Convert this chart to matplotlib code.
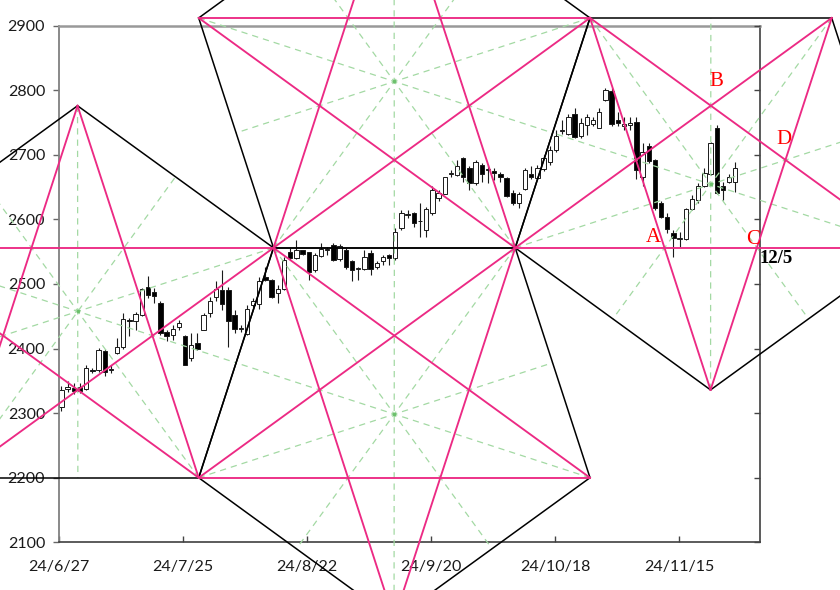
import matplotlib
matplotlib.use('Agg')
import matplotlib.pyplot as plt
import numpy as np

# ----------
# Daily candles 24/6/27 .. 24/11/29
# ----------
opens = [2310, 2338, 2339, 2340, 2338, 2367, 2367, 2397, 2367, 2393,
         2402, 2445, 2443, 2452, 2496, 2487, 2471, 2426, 2421, 2433,
         2420, 2385, 2409, 2429, 2455, 2480, 2491, 2490, 2452, 2430,
         2423, 2467, 2469, 2511, 2506, 2486, 2493, 2550, 2540, 2552,
         2549, 2521, 2543, 2553, 2560, 2538, 2553, 2536, 2524, 2524,
         2548, 2526, 2535, 2545, 2540, 2586, 2607, 2610, 2598, 2584,
         2610, 2633, 2639, 2671, 2669, 2695, 2679, 2656, 2684, 2677,
         2675, 2671, 2664, 2641, 2625, 2647, 2671, 2664, 2678, 2689,
         2708, 2737, 2733, 2763, 2729, 2746, 2748, 2741, 2785, 2799,
         2754, 2744, 2746, 2751, 2666, 2714, 2692, 2625, 2604, 2579,
         2570, 2569, 2616, 2630, 2652, 2671, 2742, 2651, 2658, 2658]
highs = [2342, 2350, 2346, 2346, 2375, 2370, 2401, 2399, 2375, 2416,
         2455, 2448, 2457, 2494, 2512, 2494, 2473, 2428, 2436, 2444,
         2421, 2424, 2424, 2455, 2480, 2504, 2522, 2496, 2460, 2437,
         2468, 2478, 2511, 2527, 2507, 2499, 2542, 2556, 2568, 2553,
         2550, 2548, 2563, 2558, 2563, 2562, 2555, 2537, 2527, 2553,
         2553, 2536, 2545, 2547, 2586, 2615, 2615, 2612, 2625, 2620,
         2651, 2646, 2666, 2676, 2692, 2697, 2682, 2692, 2687, 2684,
         2679, 2674, 2665, 2646, 2643, 2679, 2683, 2684, 2700, 2713,
         2739, 2754, 2764, 2772, 2757, 2764, 2759, 2772, 2803, 2803,
         2767, 2759, 2759, 2759, 2718, 2718, 2693, 2628, 2610, 2584,
         2581, 2617, 2638, 2656, 2679, 2720, 2746, 2658, 2671, 2689]
lows = [2304, 2332, 2330, 2331, 2336, 2362, 2363, 2358, 2362, 2391,
        2400, 2420, 2429, 2450, 2478, 2471, 2421, 2411, 2414, 2429,
        2374, 2380, 2398, 2428, 2449, 2473, 2460, 2403, 2424, 2425,
        2421, 2465, 2462, 2504, 2478, 2470, 2491, 2537, 2539, 2545,
        2506, 2519, 2542, 2545, 2535, 2535, 2524, 2504, 2506, 2522,
        2514, 2524, 2529, 2529, 2537, 2584, 2602, 2589, 2573, 2573,
        2607, 2628, 2639, 2666, 2668, 2658, 2646, 2653, 2658, 2656,
        2661, 2658, 2635, 2622, 2617, 2646, 2663, 2661, 2675, 2684,
        2705, 2733, 2731, 2726, 2726, 2731, 2744, 2741, 2784, 2744,
        2744, 2739, 2739, 2662, 2651, 2687, 2615, 2602, 2579, 2542,
        2558, 2568, 2615, 2625, 2650, 2669, 2640, 2630, 2656, 2643]
closes = [2336, 2340, 2335, 2335, 2370, 2366, 2398, 2364, 2369, 2403,
          2446, 2443, 2454, 2492, 2483, 2481, 2424, 2420, 2431, 2439,
          2375, 2406, 2400, 2452, 2473, 2492, 2469, 2443, 2430, 2432,
          2462, 2474, 2504, 2506, 2480, 2492, 2537, 2540, 2552, 2547,
          2519, 2545, 2554, 2554, 2537, 2559, 2527, 2522, 2525, 2542,
          2523, 2533, 2542, 2541, 2580, 2610, 2609, 2594, 2597, 2616,
          2646, 2641, 2665, 2672, 2683, 2666, 2657, 2689, 2670, 2677,
          2672, 2665, 2636, 2625, 2639, 2677, 2665, 2679, 2695, 2708,
          2729, 2739, 2759, 2728, 2749, 2759, 2754, 2767, 2800, 2748,
          2749, 2748, 2750, 2677, 2705, 2691, 2617, 2604, 2585, 2572,
          2571, 2616, 2631, 2651, 2672, 2718, 2641, 2646, 2665, 2679]

tick_pos = [-0.4, 19.7, 39.7, 59.8, 79.9, 99.9]
tick_labels = ['24/6/27', '24/7/25', '24/8/22', '24/9/20', '24/10/18', '24/11/15']
y_ticks = [2100, 2200, 2300, 2400, 2500, 2600, 2700, 2800, 2900]

# ----------
# Pentagons (index, price), vertices in drawing order
# ----------
pent_left_x = [2.6, 34.3, 22.2, -16.9, -29.0]
pent_left_y = [2776, 2556, 2200, 2200, 2556]
pent_top_x = [53.8, 85.5, 73.4, 34.3, 22.2]
pent_top_y = [3132, 2912, 2556, 2556, 2912]
pent_bot_x = [53.8, 22.2, 34.3, 73.4, 85.5]
pent_bot_y = [1980, 2200, 2556, 2556, 2200]
pent_right_x = [105.0, 136.7, 124.6, 85.5, 73.4]
pent_right_y = [2336, 2556, 2912, 2912, 2556]

marks = ['A', 'B', 'C', 'D']
mark_x = [95.8, 105.9, 111.9, 116.8]
mark_y = [2572, 2813, 2569, 2723]
date_mark = '12/5'
date_mark_x = 112.9
date_mark_y = 2539

PINK = '#ec2a84'
GREEN = '#a3d9a3'


def draw_pentagon(ax, xs, ys):
    n = len(xs)
    cx, cy = np.mean(xs), np.mean(ys)
    # green guides: vertex -> centre -> middle of opposite side
    for k in range(n):
        j1, j2 = (k + 2) % n, (k + 3) % n
        mx, my = (xs[j1] + xs[j2]) / 2, (ys[j1] + ys[j2]) / 2
        ax.plot([xs[k], mx], [ys[k], my], color=GREEN, lw=0.9,
                ls=(0, (5, 4)), zorder=3, clip_on=False)
    ax.plot([cx], [cy], 'o', ms=1.6, color='#6cc06c', zorder=3, clip_on=False)
    # sides
    for k in range(n):
        j = (k + 1) % n
        ax.plot([xs[k], xs[j]], [ys[k], ys[j]], color='black', lw=1.1,
                zorder=4, clip_on=False)
    # star
    for k in range(n):
        j = (k + 2) % n
        ax.plot([xs[k], xs[j]], [ys[k], ys[j]], color=PINK, lw=1.35,
                zorder=5, clip_on=False)


fig = plt.figure(figsize=(8.4, 5.9), dpi=100)
ax = fig.add_axes([59 / 840, 1 - 542.3 / 590, 701 / 840, 516.6 / 590])

o = np.array(opens, float)
h = np.array(highs, float)
l = np.array(lows, float)
c = np.array(closes, float)
x = np.arange(len(o))
up = c >= o

ax.vlines(x, l, h, color='#1a1a1a', lw=0.8, zorder=2)
body_lo = np.minimum(o, c)
body_h = np.maximum(np.abs(c - o), 1.2)
ax.bar(x, body_h, bottom=body_lo, width=0.7,
       color=np.where(up, 'white', 'black'), edgecolor='#1a1a1a',
       linewidth=0.7, zorder=2.2)

for xs, ys in [(pent_left_x, pent_left_y), (pent_top_x, pent_top_y),
               (pent_bot_x, pent_bot_y), (pent_right_x, pent_right_y)]:
    draw_pentagon(ax, xs, ys)

for t, tx, ty in zip(marks, mark_x, mark_y):
    ax.text(tx, ty, t, color='red', fontsize=15, family='Liberation Serif',
            ha='center', va='center', zorder=6)
ax.text(date_mark_x, date_mark_y, date_mark, color='black', fontsize=13.5,
        family='Liberation Serif', fontweight='bold', ha='left', va='center', zorder=6)

ax.set_xlim(-0.4, 113.0)
ax.set_ylim(2100, 2900)
ax.set_xticks(tick_pos)
ax.set_xticklabels(tick_labels, family='Lato', fontsize=11.5, color='#1a1a1a')
ax.set_yticks(y_ticks)
ax.set_yticklabels([str(v) for v in y_ticks], family='Lato', fontsize=11.5, color='#1a1a1a')
ax.tick_params(axis='x', direction='in', length=4, width=1, pad=13, color='#444444')
ax.tick_params(axis='y', direction='out', length=4, width=1, pad=6, color='#666666')

ax.spines['left'].set_color('#808080')
ax.spines['left'].set_linewidth(1.3)
ax.spines['top'].set_color('#999999')
ax.spines['top'].set_linewidth(1.8)
ax.spines['bottom'].set_color('#404040')
ax.spines['bottom'].set_linewidth(1.2)
ax.spines['right'].set_color('#404040')
ax.spines['right'].set_linewidth(1.2)

# right side ticks point inward, no labels
ax2 = ax.twinx()
ax2.set_ylim(2100, 2900)
ax2.set_yticks(y_ticks)
ax2.tick_params(axis='y', direction='in', length=4, width=1, labelright=False, color='#444444')
for s in ax2.spines.values():
    s.set_visible(False)

fig.savefig('out.png', dpi=100)
plt.close(fig)
